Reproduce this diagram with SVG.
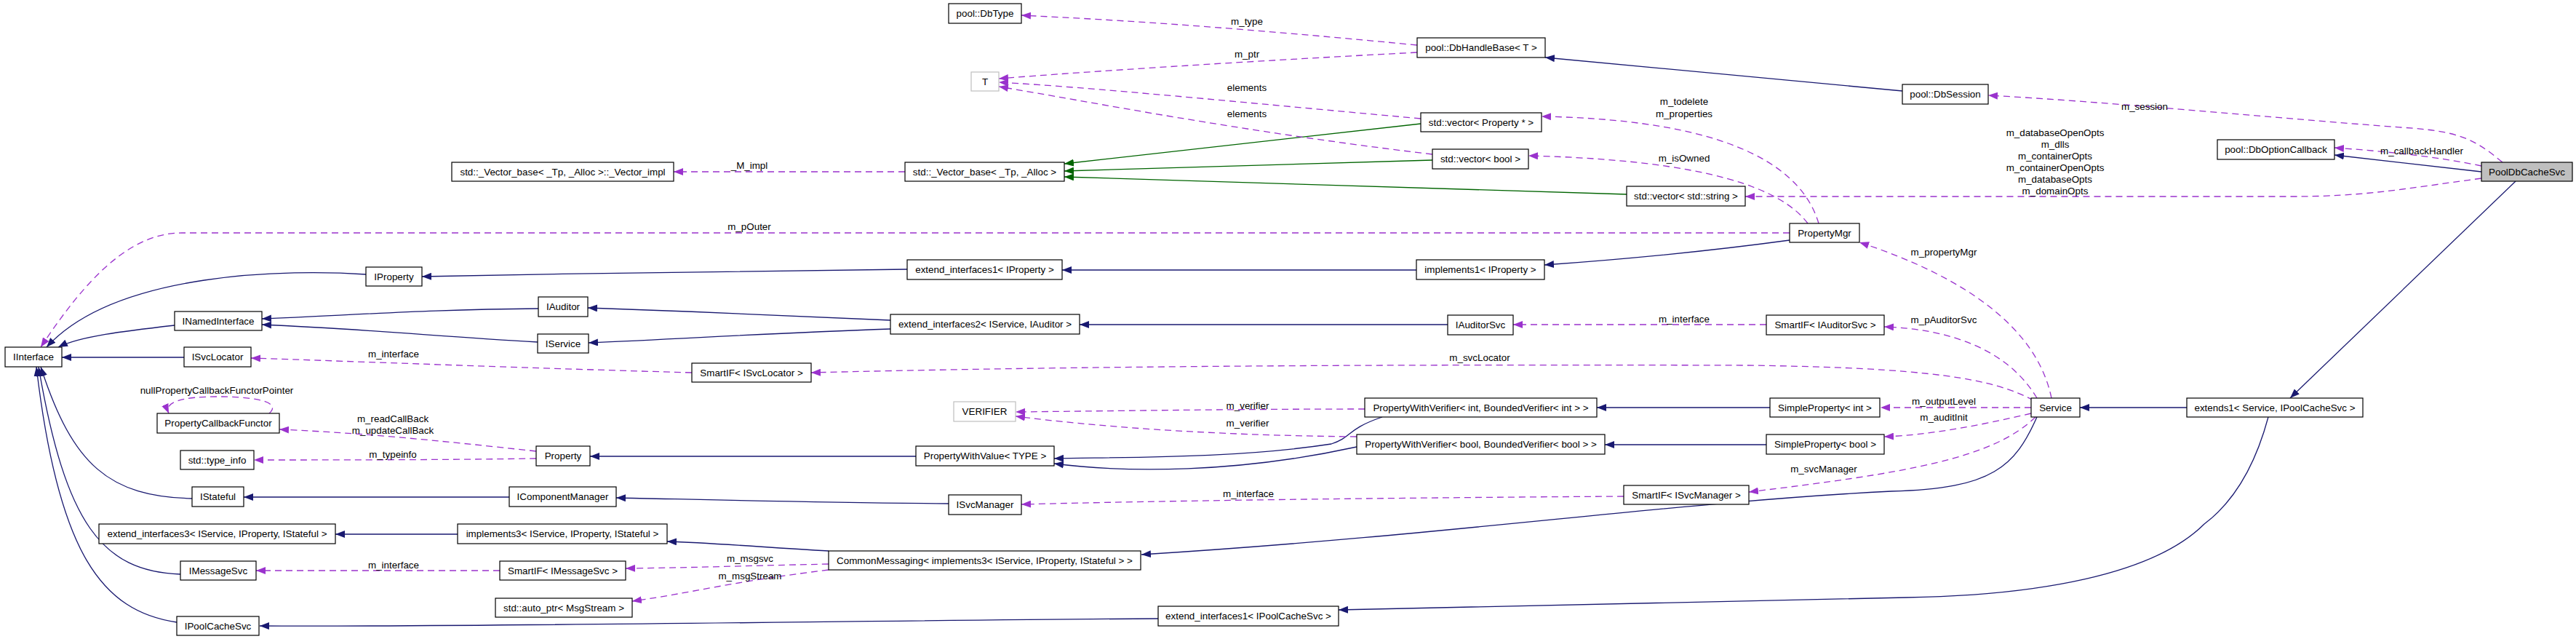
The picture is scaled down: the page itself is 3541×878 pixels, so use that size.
<svg xmlns="http://www.w3.org/2000/svg" width="3541" height="878" viewBox="0 0 3541 878">
<style>
.n rect{fill:#fff;stroke:#000;stroke-width:1.2}
.g rect{fill:#fff;stroke:#bfbfbf;stroke-width:1.2}
.h rect{fill:#bfbfbf;stroke:#000;stroke-width:1.2}
text{font-family:"Liberation Sans",Arial,sans-serif;font-size:13.4px;fill:#000;text-anchor:middle}
.i{fill:none;stroke:#191970;stroke-width:1.3}
.t{fill:none;stroke:#006400;stroke-width:1.3}
.u{fill:none;stroke:#9a32cd;stroke-width:1.3;stroke-dasharray:9,6}
</style>
<defs>
<marker id="ai" markerUnits="userSpaceOnUse" markerWidth="14" markerHeight="10" refX="13" refY="5" orient="auto"><path d="M0,0 L13,5 L0,10 z" fill="#191970"/></marker>
<marker id="at" markerUnits="userSpaceOnUse" markerWidth="14" markerHeight="10" refX="13" refY="5" orient="auto"><path d="M0,0 L13,5 L0,10 z" fill="#006400"/></marker>
<marker id="au" markerUnits="userSpaceOnUse" markerWidth="14" markerHeight="10" refX="13" refY="5" orient="auto"><path d="M0,0 L13,5 L0,10 z" fill="#9a32cd"/></marker>
</defs>
<g id="edges">
<path class="i" marker-end="url(#ai)" d="M503,377 C400,370 160,372 64,477"/>
<path class="i" marker-end="url(#ai)" d="M240,447 C170,455 110,462 80,477"/>
<path class="i" marker-end="url(#ai)" d="M253,491 L85,491"/>
<path class="i" marker-end="url(#ai)" d="M264,685 C150,682 100,640 56,504"/>
<path class="i" marker-end="url(#ai)" d="M248,789 C140,785 90,720 53,504"/>
<path class="i" marker-end="url(#ai)" d="M243,855 C140,840 80,760 50,504"/>
<path class="i" marker-end="url(#ai)" d="M740,424 C600,425 500,432 360,438"/>
<path class="i" marker-end="url(#ai)" d="M739,470 C600,462 500,452 360,446"/>
<path class="i" marker-end="url(#ai)" d="M1247,370 C1000,372 800,376 580,380"/>
<path class="i" marker-end="url(#ai)" d="M1947,371 L1460,371"/>
<path class="i" marker-end="url(#ai)" d="M2460,330 C2350,345 2250,355 2123,364"/>
<path class="i" marker-end="url(#ai)" d="M1224,440 C1050,432 950,428 808,423"/>
<path class="i" marker-end="url(#ai)" d="M1224,452 C1050,458 950,465 809,471"/>
<path class="i" marker-end="url(#ai)" d="M1990,446 L1484,446"/>
<path class="i" marker-end="url(#ai)" d="M1259,627 L811,627"/>
<path class="i" marker-end="url(#ai)" d="M1900,573 C1850,590 1860,600 1830,610 C1700,630 1550,628 1449,630"/>
<path class="i" marker-end="url(#ai)" d="M1865,614 C1700,650 1550,650 1449,637"/>
<path class="i" marker-end="url(#ai)" d="M2433,560 L2195,560"/>
<path class="i" marker-end="url(#ai)" d="M2428,611 L2206,611"/>
<path class="i" marker-end="url(#ai)" d="M700,683 L335,683"/>
<path class="i" marker-end="url(#ai)" d="M1304,692 C1100,690 950,686 847,684"/>
<path class="i" marker-end="url(#ai)" d="M629,734 L461,734"/>
<path class="i" marker-end="url(#ai)" d="M1139,757 C1050,752 980,746 917,744"/>
<path class="i" marker-end="url(#ai)" d="M2800,573 C2770,640 2740,672 2600,675 C2300,690 2000,735 1569,762"/>
<path class="i" marker-end="url(#ai)" d="M1592,850 C1240,852 640,862 357,860"/>
<path class="i" marker-end="url(#ai)" d="M3118,573 C3100,640 3070,690 3030,720 C2960,790 2800,818 2620,821 L1840,838"/>
<path class="i" marker-end="url(#ai)" d="M3006,560 L2859,560"/>
<path class="i" marker-end="url(#ai)" d="M3458,249 L3148,547"/>
<path class="i" marker-end="url(#ai)" d="M2615,125 L2124,79"/>
<path class="i" marker-end="url(#ai)" d="M3411,236 L3209,213"/>
<path class="t" marker-end="url(#at)" d="M1953,170 L1463,225"/>
<path class="t" marker-end="url(#at)" d="M1969,220 L1463,235"/>
<path class="t" marker-end="url(#at)" d="M2236,267 C1900,258 1700,250 1463,243"/>
<path class="u" marker-end="url(#au)" d="M1948,62 C1700,38 1550,28 1404,21"/>
<path class="u" marker-end="url(#au)" d="M1948,72 C1700,85 1500,98 1373,108"/>
<path class="u" marker-end="url(#au)" d="M1953,163 C1700,140 1500,120 1373,113"/>
<path class="u" marker-end="url(#au)" d="M1969,212 C1700,180 1500,140 1373,119"/>
<path class="u" marker-end="url(#au)" d="M1244,236 L926,236"/>
<path class="u" marker-end="url(#au)" d="M2500,307 C2480,240 2400,165 2119,160"/>
<path class="u" marker-end="url(#au)" d="M2485,307 C2450,260 2350,220 2101,214"/>
<path class="u" marker-end="url(#au)" d="M3411,245 C3300,260 3250,270 3150,270 L2399,270"/>
<path class="u" marker-end="url(#au)" d="M3440,223 C3400,190 3380,180 3300,175 C3100,160 2900,140 2733,131"/>
<path class="u" marker-end="url(#au)" d="M3411,228 C3350,215 3280,208 3209,203"/>
<path class="u" marker-end="url(#au)" d="M2460,320 L250,320 C180,320 120,380 56,477"/>
<path class="u" marker-end="url(#au)" d="M2820,547 C2800,450 2700,380 2556,333"/>
<path class="u" marker-end="url(#au)" d="M2800,547 C2760,480 2680,452 2590,449"/>
<path class="u" marker-end="url(#au)" d="M2428,446 L2080,446"/>
<path class="u" marker-end="url(#au)" d="M2795,550 C2740,520 2650,505 2400,502 C1800,500 1400,505 1115,512"/>
<path class="u" marker-end="url(#au)" d="M951,512 C700,505 500,497 345,492"/>
<path class="u" marker-end="url(#au)" d="M2792,560 L2585,560"/>
<path class="u" marker-end="url(#au)" d="M2792,568 C2720,585 2650,598 2590,600"/>
<path class="u" marker-end="url(#au)" d="M2798,573 C2740,630 2620,650 2404,676"/>
<path class="u" marker-end="url(#au)" d="M2232,682 C1900,684 1600,688 1404,693"/>
<path class="u" marker-end="url(#au)" d="M1876,562 C1700,562 1500,565 1396,566"/>
<path class="u" marker-end="url(#au)" d="M1865,600 C1650,598 1500,585 1396,572"/>
<path class="u" marker-end="url(#au)" d="M737,620 C600,605 500,595 384,590"/>
<path class="u" marker-end="url(#au)" d="M737,630 C600,632 450,632 349,632"/>
<path class="u" marker-end="url(#au)" d="M370,568 C390,550 340,545 300,545 C250,545 225,552 232,568"/>
<path class="u" marker-end="url(#au)" d="M1139,775 C1000,778 950,780 860,781"/>
<path class="u" marker-end="url(#au)" d="M1139,783 C1000,800 950,815 869,826"/>
<path class="u" marker-end="url(#au)" d="M687,784 L352,784"/>
</g>
<g id="labels">
<text x="1714" y="34">m_type</text>
<text x="1714" y="79">m_ptr</text>
<text x="1714" y="125">elements</text>
<text x="1714" y="161">elements</text>
<text x="1030" y="232">_M_impl</text>
<text x="1030" y="316">m_pOuter</text>
<text x="2315" y="144">m_todelete</text>
<text x="2315" y="161">m_properties</text>
<text x="2315" y="222">m_isOwned</text>
<text x="2948" y="151">m_session</text>
<text x="2825" y="187">m_databaseOpenOpts</text>
<text x="2825" y="203">m_dlls</text>
<text x="2825" y="219">m_containerOpts</text>
<text x="2825" y="235">m_containerOpenOpts</text>
<text x="2825" y="251">m_databaseOpts</text>
<text x="2825" y="267">m_domainOpts</text>
<text x="3329" y="212">m_callbackHandler</text>
<text x="2672" y="351">m_propertyMgr</text>
<text x="2672" y="444">m_pAuditorSvc</text>
<text x="2315" y="443">m_interface</text>
<text x="2034" y="496">m_svcLocator</text>
<text x="541" y="491">m_interface</text>
<text x="2672" y="556">m_outputLevel</text>
<text x="2672" y="578">m_auditInit</text>
<text x="1715" y="562">m_verifier</text>
<text x="1715" y="586">m_verifier</text>
<text x="2507" y="649">m_svcManager</text>
<text x="1716" y="683">m_interface</text>
<text x="298" y="541">nullPropertyCallbackFunctorPointer</text>
<text x="540" y="580">m_readCallBack</text>
<text x="540" y="596">m_updateCallBack</text>
<text x="540" y="629">m_typeinfo</text>
<text x="1031" y="772">m_msgsvc</text>
<text x="1031" y="796">m_msgStream</text>
<text x="541" y="781">m_interface</text>
</g>
<g id="PoolDbCacheSvc" class="h"><rect x="3411" y="223" width="125" height="26"/><text x="3473.5" y="241">PoolDbCacheSvc</text></g>
<g id="DbOptionCallback" class="n"><rect x="3048" y="192" width="161" height="27"/><text x="3128.5" y="210">pool::DbOptionCallback</text></g>
<g id="DbSession" class="n"><rect x="2615" y="116" width="118" height="27"/><text x="2674" y="134">pool::DbSession</text></g>
<g id="DbHandleBase" class="n"><rect x="1948" y="52" width="176" height="27"/><text x="2036" y="70">pool::DbHandleBase&lt; T &gt;</text></g>
<g id="DbType" class="n"><rect x="1304" y="5" width="100" height="27"/><text x="1354" y="23">pool::DbType</text></g>
<g id="T" class="g"><rect x="1335" y="99" width="38" height="26"/><text x="1354" y="117">T</text></g>
<g id="VectorBase" class="n"><rect x="1244" y="223" width="219" height="26"/><text x="1353.5" y="241">std::_Vector_base&lt; _Tp, _Alloc &gt;</text></g>
<g id="VectorImpl" class="n"><rect x="621" y="223" width="305" height="26"/><text x="773.5" y="241">std::_Vector_base&lt; _Tp, _Alloc &gt;::_Vector_impl</text></g>
<g id="VecProp" class="n"><rect x="1953" y="155" width="166" height="26"/><text x="2036" y="173">std::vector&lt; Property * &gt;</text></g>
<g id="VecBool" class="n"><rect x="1969" y="205" width="132" height="27"/><text x="2035" y="223">std::vector&lt; bool &gt;</text></g>
<g id="VecStr" class="n"><rect x="2236" y="256" width="163" height="27"/><text x="2317.5" y="274">std::vector&lt; std::string &gt;</text></g>
<g id="PropertyMgr" class="n"><rect x="2460" y="307" width="96" height="26"/><text x="2508" y="325">PropertyMgr</text></g>
<g id="IInterface" class="n"><rect x="7" y="477" width="78" height="27"/><text x="46" y="495">IInterface</text></g>
<g id="INamedInterface" class="n"><rect x="240" y="428" width="120" height="26"/><text x="300" y="446">INamedInterface</text></g>
<g id="ISvcLocator" class="n"><rect x="253" y="477" width="92" height="27"/><text x="299" y="495">ISvcLocator</text></g>
<g id="IProperty" class="n"><rect x="503" y="367" width="77" height="26"/><text x="541.5" y="385">IProperty</text></g>
<g id="IAuditor" class="n"><rect x="740" y="408" width="68" height="27"/><text x="774" y="426">IAuditor</text></g>
<g id="IService" class="n"><rect x="739" y="459" width="70" height="26"/><text x="774" y="477">IService</text></g>
<g id="SmartIFSvcLocator" class="n"><rect x="951" y="499" width="164" height="26"/><text x="1033" y="517">SmartIF&lt; ISvcLocator &gt;</text></g>
<g id="ExtIfProp" class="n"><rect x="1247" y="357" width="213" height="27"/><text x="1353.5" y="375">extend_interfaces1&lt; IProperty &gt;</text></g>
<g id="ExtIf2" class="n"><rect x="1224" y="432" width="260" height="27"/><text x="1354" y="450">extend_interfaces2&lt; IService, IAuditor &gt;</text></g>
<g id="Impl1" class="n"><rect x="1947" y="357" width="176" height="27"/><text x="2035" y="375">implements1&lt; IProperty &gt;</text></g>
<g id="IAuditorSvc" class="n"><rect x="1990" y="433" width="90" height="27"/><text x="2035" y="451">IAuditorSvc</text></g>
<g id="SmartIFAuditorSvc" class="n"><rect x="2428" y="433" width="162" height="27"/><text x="2509" y="451">SmartIF&lt; IAuditorSvc &gt;</text></g>
<g id="VERIFIER" class="g"><rect x="1311" y="552" width="85" height="27"/><text x="1353.5" y="570">VERIFIER</text></g>
<g id="PWVint" class="n"><rect x="1876" y="547" width="319" height="26"/><text x="2035.5" y="565">PropertyWithVerifier&lt; int, BoundedVerifier&lt; int &gt; &gt;</text></g>
<g id="PWVbool" class="n"><rect x="1865" y="597" width="341" height="27"/><text x="2035.5" y="615">PropertyWithVerifier&lt; bool, BoundedVerifier&lt; bool &gt; &gt;</text></g>
<g id="SPint" class="n"><rect x="2433" y="547" width="151" height="26"/><text x="2508.5" y="565">SimpleProperty&lt; int &gt;</text></g>
<g id="SPbool" class="n"><rect x="2428" y="597" width="162" height="27"/><text x="2509" y="615">SimpleProperty&lt; bool &gt;</text></g>
<g id="Service" class="n"><rect x="2792" y="547" width="67" height="26"/><text x="2825.5" y="565">Service</text></g>
<g id="Extends1" class="n"><rect x="3006" y="547" width="242" height="26"/><text x="3127" y="565">extends1&lt; Service, IPoolCacheSvc &gt;</text></g>
<g id="PropertyCallbackFunctor" class="n"><rect x="216" y="568" width="168" height="27"/><text x="300" y="586">PropertyCallbackFunctor</text></g>
<g id="TypeInfo" class="n"><rect x="248" y="619" width="101" height="26"/><text x="298.5" y="637">std::type_info</text></g>
<g id="Property" class="n"><rect x="737" y="613" width="74" height="27"/><text x="774" y="631">Property</text></g>
<g id="PWV" class="n"><rect x="1259" y="613" width="190" height="27"/><text x="1354" y="631">PropertyWithValue&lt; TYPE &gt;</text></g>
<g id="IStateful" class="n"><rect x="264" y="669" width="71" height="27"/><text x="299.5" y="687">IStateful</text></g>
<g id="IComponentManager" class="n"><rect x="700" y="669" width="147" height="27"/><text x="773.5" y="687">IComponentManager</text></g>
<g id="ISvcManager" class="n"><rect x="1304" y="680" width="100" height="27"/><text x="1354" y="698">ISvcManager</text></g>
<g id="SmartIFSvcManager" class="n"><rect x="2232" y="667" width="172" height="26"/><text x="2318" y="685">SmartIF&lt; ISvcManager &gt;</text></g>
<g id="ExtIf3" class="n"><rect x="136" y="720" width="325" height="27"/><text x="298.5" y="738">extend_interfaces3&lt; IService, IProperty, IStateful &gt;</text></g>
<g id="Impl3" class="n"><rect x="629" y="720" width="288" height="27"/><text x="773" y="738">implements3&lt; IService, IProperty, IStateful &gt;</text></g>
<g id="CommonMessaging" class="n"><rect x="1139" y="757" width="429" height="26"/><text x="1353.5" y="775">CommonMessaging&lt; implements3&lt; IService, IProperty, IStateful &gt; &gt;</text></g>
<g id="IMessageSvc" class="n"><rect x="248" y="771" width="104" height="26"/><text x="300" y="789">IMessageSvc</text></g>
<g id="SmartIFMessageSvc" class="n"><rect x="687" y="771" width="173" height="26"/><text x="773.5" y="789">SmartIF&lt; IMessageSvc &gt;</text></g>
<g id="AutoPtr" class="n"><rect x="681" y="822" width="188" height="26"/><text x="775" y="840">std::auto_ptr&lt; MsgStream &gt;</text></g>
<g id="IPoolCacheSvc" class="n"><rect x="243" y="847" width="113" height="26"/><text x="299.5" y="865">IPoolCacheSvc</text></g>
<g id="ExtIfPool" class="n"><rect x="1592" y="833" width="248" height="27"/><text x="1716" y="851">extend_interfaces1&lt; IPoolCacheSvc &gt;</text></g>
</svg>
